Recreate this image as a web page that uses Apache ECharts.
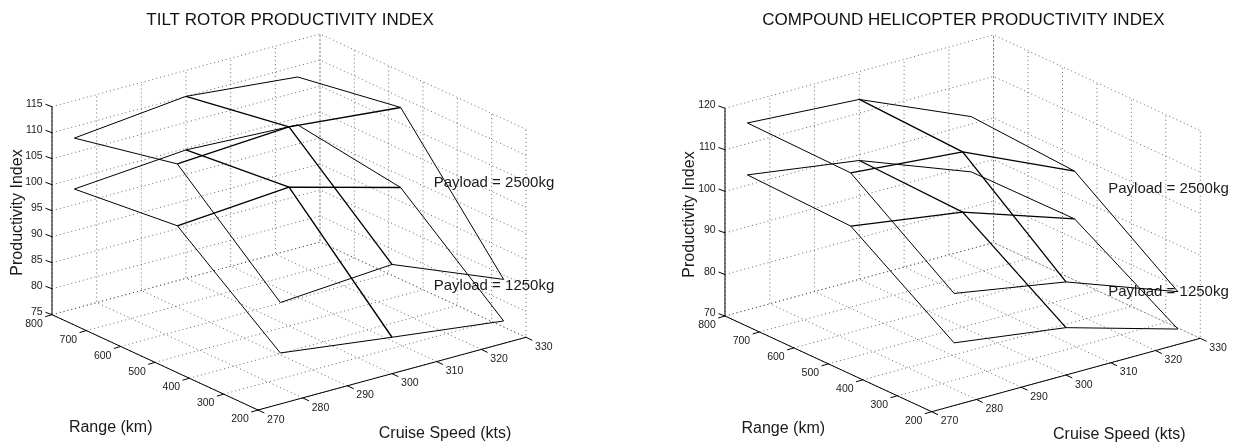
<!DOCTYPE html>
<html><head><meta charset="utf-8">
<style>html,body{margin:0;padding:0;background:#fff}#c{width:1237px;height:443px}</style>
<script src="https://cdn.jsdelivr.net/npm/echarts@6/dist/echarts.min.js"></script>
</head><body><div id="c"></div>
<script>
// ---- data ----
const ranges = [200, 500, 800];
const speeds = [275, 300, 325];
const rangeTicks = [200, 300, 400, 500, 600, 700, 800];
const speedTicks = [270, 280, 290, 300, 310, 320, 330];
const tiltIndexTicks = [75, 80, 85, 90, 95, 100, 105, 110, 115];
const compoundIndexTicks = [70, 80, 90, 100, 110, 120];
// rows follow ranges, columns follow speeds
const tiltHighPayload = [[94.5, 96.0, 87.3], [112.0, 113.3, 111.2], [107.8, 110.0, 107.9]];
const tiltLowPayload  = [[84.8, 82.0, 79.3], [100.1, 101.7, 95.8], [98.0, 99.7, 98.7]];
const compoundHighPayload = [[97.0, 92.4, 82.7], [114.5, 112.2, 100.2], [115.0, 113.3, 101.8]];
const compoundLowPayload  = [[85.1, 81.4, 73.7], [101.7, 97.7, 88.7], [102.5, 98.6, 88.5]];
const titles = ['TILT ROTOR PRODUCTIVITY INDEX', 'COMPOUND HELICOPTER PRODUCTIVITY INDEX'];
const xName = 'Cruise Speed (kts)', yName = 'Range (km)', zName = 'Productivity Index';
const payloadNames = ['Payload = 2500kg', 'Payload = 1250kg'];

// ---- layout of the two orthographic boxes ----
const FONT = '"Liberation Sans", Arial, sans-serif';
const panels = [
  { left: 0, width: 618, front: [258, 410], rVec: [-206, -95.3], sVec: [268, -72.7], zHeight: 208,
    zTicks: tiltIndexTicks, surfaces: [tiltHighPayload, tiltLowPayload], title: titles[0], titleX: 290,
    nameR: [110.7, 427.7], nameS: [445, 433.3], nameZ: [17.5, 212.5], payload: [[494, 183], [494, 286]] },
  { left: 618, width: 619, front: [931.7, 411.7], rVec: [-206.7, -95.7], sVec: [268.6, -73.4], zHeight: 207.7,
    zTicks: compoundIndexTicks, surfaces: [compoundHighPayload, compoundLowPayload], title: titles[1], titleX: 963.4,
    nameR: [783.3, 429], nameS: [1119.3, 435], nameZ: [689.5, 214.5], payload: [[1168.5, 189], [1168.5, 292]] }
];
const rMin = rangeTicks[0], rMax = rangeTicks[rangeTicks.length - 1];
const sMin = speedTicks[0], sMax = speedTicks[speedTicks.length - 1];

const series = [], title = [], grid = [], xAxis = [], yAxis = [];

panels.forEach((p, i) => {
  const zMin = p.zTicks[0], zMax = p.zTicks[p.zTicks.length - 1];
  const proj = (r, s, z) => {
    const a = (r - rMin) / (rMax - rMin), b = (s - sMin) / (sMax - sMin), c = (z - zMin) / (zMax - zMin);
    return [p.front[0] + a * p.rVec[0] + b * p.sVec[0] - p.left,
            p.front[1] + a * p.rVec[1] + b * p.sVec[1] - c * p.zHeight];
  };
  const off = (pt, dx, dy) => [pt[0] + dx, pt[1] + dy];
  const line = (data, style) => series.push({
    type: 'line', xAxisIndex: i, yAxisIndex: i, data, symbol: 'none', silent: true, animation: false,
    clip: false, lineStyle: style
  });
  const labels = (data, size, extra) => series.push({
    type: 'scatter', xAxisIndex: i, yAxisIndex: i, symbolSize: 0, silent: true, animation: false, clip: false,
    itemStyle: { opacity: 1 },
    data: data.map(d => ({ value: d[0], name: d[1] })),
    label: Object.assign({ show: true, position: 'inside', formatter: '{b}', color: '#1a1a1a',
      fontFamily: FONT, fontSize: size, align: 'center', verticalAlign: 'middle' }, extra || {})
  });

  grid.push({ left: p.left, top: 0, width: p.width, height: 443, show: false });
  xAxis.push({ type: 'value', gridIndex: i, min: 0, max: p.width, show: false });
  yAxis.push({ type: 'value', gridIndex: i, min: 0, max: 443, inverse: true, show: false });
  title.push({ text: p.title, left: p.titleX, top: 12, textAlign: 'center', padding: 0,
    textStyle: { fontFamily: FONT, fontSize: 17, fontWeight: 'normal', color: '#111' } });

  // dotted box grid
  const dots = { color: '#444', width: 0.8, type: [1, 3] };
  p.zTicks.forEach(z => line([proj(rMax, sMin, z), proj(rMax, sMax, z), proj(rMin, sMax, z)], dots));
  speedTicks.forEach(s => {
    line([proj(rMin, s, zMin), proj(rMax, s, zMin), proj(rMax, s, zMax)], dots);
  });
  rangeTicks.forEach(r => {
    line([proj(r, sMin, zMin), proj(r, sMax, zMin), proj(r, sMax, zMax)], dots);
  });

  // axes and ticks
  const solid = { color: '#000', width: 1 };
  line([proj(rMax, sMin, zMax), proj(rMax, sMin, zMin), proj(rMin, sMin, zMin), proj(rMin, sMax, zMin)], solid);
  p.zTicks.forEach(z => { const a = proj(rMax, sMin, z); line([a, off(a, -6.5, -2.4)], solid); });
  rangeTicks.forEach(r => { const a = proj(r, sMin, zMin); line([a, off(a, -6.8, 2)], solid); });
  speedTicks.forEach(s => { const a = proj(rMin, s, zMin); line([a, off(a, 6.3, 3)], solid); });

  // payload meshes: the middle row and column print heavier in the reference
  const mesh = { color: '#000', width: 1 };
  const meshMid = { color: '#000', width: 1.35 };
  p.surfaces.forEach(surf => {
    surf.forEach((row, ri) => line(row.map((z, si) => proj(ranges[ri], speeds[si], z)), ri === 1 ? meshMid : mesh));
    speeds.forEach((s, si) => line(surf.map((row, ri) => proj(ranges[ri], s, row[si])), si === 1 ? meshMid : mesh));
  });

  // tick labels
  labels(p.zTicks.map(z => [off(proj(rMax, sMin, z), -9.3, -2.7), String(z)]), 10.5, { align: 'right' });
  labels(rangeTicks.map(r => [off(proj(r, sMin, zMin), -18, 9.3), String(r)]), 10.5);
  labels(speedTicks.map(s => [off(proj(rMin, s, zMin), 17.8, 9.8), String(s)]), 10.5);

  // axis names and annotations
  const place = pt => [pt[0] - p.left, pt[1]];
  labels([[place(p.nameR), yName]], 16);
  labels([[place(p.nameS), xName]], 16);
  labels([[place(p.nameZ), zName]], 16, { rotate: 90 });
  labels(p.payload.map((pt, k) => [place(pt), payloadNames[k]]), 15);
});

const chart = echarts.init(document.getElementById('c'), null, { renderer: 'canvas' });
chart.setOption({ animation: false, backgroundColor: '#fff', title, grid, xAxis, yAxis, tooltip: { show: false }, series });
</script></body></html>
